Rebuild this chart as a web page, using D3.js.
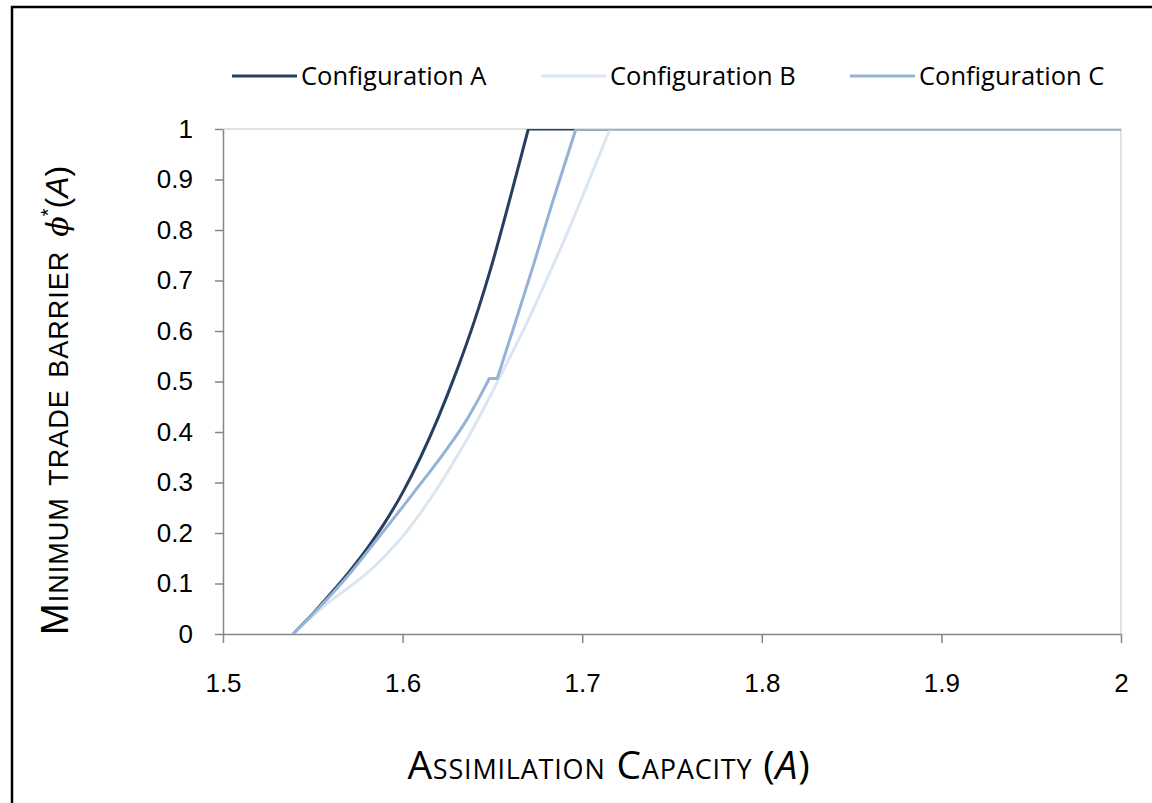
<!DOCTYPE html>
<html>
<head>
<meta charset="utf-8">
<script src="https://cdn.jsdelivr.net/npm/d3@7"></script>
<style>
  body { margin: 0; background: #fff; }
  svg { display: block; }
</style>
</head>
<body>
<div id="chart"></div>
<script>
// series (assimilation capacity A, minimum trade barrier)
const seriesNames = ["Configuration A", "Configuration B", "Configuration C"];
const seriesColors = ["#243f60", "#dce6f2", "#95b3d7"];

const capA = [1.539, 1.550, 1.560, 1.570, 1.580, 1.590, 1.600, 1.610, 1.620, 1.630, 1.640, 1.650, 1.660, 1.670, 2.0];
const phiA = [0, 0.040, 0.080, 0.122, 0.168, 0.220, 0.280, 0.350, 0.430, 0.520, 0.620, 0.735, 0.865, 1.0, 1.0];

const capB = [1.539, 1.550, 1.560, 1.570, 1.580, 1.590, 1.600, 1.610, 1.620, 1.630, 1.640, 1.650, 1.660, 1.670, 1.680, 1.690, 1.700, 1.7155, 2.0];
const phiB = [0, 0.036, 0.066, 0.092, 0.120, 0.154, 0.193, 0.240, 0.292, 0.350, 0.412, 0.480, 0.550, 0.622, 0.700, 0.780, 0.865, 1.0, 1.0];

const capC = [1.539, 1.555, 1.569, 1.587, 1.606, 1.625, 1.635, 1.643, 1.6483, 1.6527, 1.6616, 1.6728, 1.6839, 1.6965, 2.0];
const phiC = [0, 0.058, 0.113, 0.193, 0.279, 0.368, 0.420, 0.470, 0.506, 0.506, 0.604, 0.730, 0.860, 1.0, 1.0];

// indices where the curves have a sharp corner
const cornersA = [13];
const cornersB = [17];
const cornersC = [8, 9, 13];

const xTicks = [1.5, 1.6, 1.7, 1.8, 1.9, 2];
const xTickLabels = ["1.5", "1.6", "1.7", "1.8", "1.9", "2"];
const yTicks = [0, 0.1, 0.2, 0.3, 0.4, 0.5, 0.6, 0.7, 0.8, 0.9, 1];
const yTickLabels = ["0", "0.1", "0.2", "0.3", "0.4", "0.5", "0.6", "0.7", "0.8", "0.9", "1"];

const width = 1152, height = 803;
const margin = {top: 129, right: 31, bottom: 169, left: 223};

const svg = d3.select("#chart").append("svg")
  .attr("width", width)
  .attr("height", height);

svg.append("rect").attr("width", width).attr("height", height).attr("fill", "#fff");

// outer frame (only top and left show)
svg.append("path")
  .attr("d", "M12," + height + "V7H" + width)
  .attr("fill", "none")
  .attr("stroke", "#000")
  .attr("stroke-width", 2.5);

const x = d3.scaleLinear().domain([1.5, 2]).range([margin.left, width - margin.right]);
const y = d3.scaleLinear().domain([0, 1]).range([height - margin.bottom, margin.top]);

// light border top / right
svg.append("path")
  .attr("d", "M" + x(1.5) + "," + y(1) + "H" + x(2) + "V" + y(0))
  .attr("fill", "none")
  .attr("stroke", "#d9d9d9")
  .attr("stroke-width", 1.5);

const tickFont = "'Liberation Sans', Arial, sans-serif";

const yAxis = svg.append("g")
  .attr("transform", "translate(" + margin.left + ",0)")
  .call(d3.axisLeft(y).tickValues(yTicks)
    .tickFormat((d, i) => yTickLabels[i])
    .tickSize(8).tickSizeOuter(0).tickPadding(22));

const xAxis = svg.append("g")
  .attr("transform", "translate(0," + y(0) + ")")
  .call(d3.axisBottom(x).tickValues(xTicks)
    .tickFormat((d, i) => xTickLabels[i])
    .tickSize(9).tickSizeOuter(0).tickPadding(31));

[xAxis, yAxis].forEach(g => {
  g.select(".domain").attr("stroke", "#868686").attr("stroke-width", 1.5);
  g.selectAll(".tick line").attr("stroke", "#868686").attr("stroke-width", 1.5);
  g.selectAll(".tick text")
    .attr("fill", "#000")
    .style("font-family", tickFont)
    .style("font-size", "26px");
});

// lines, clipped to the plot area like the original
svg.append("clipPath").attr("id", "plot-clip")
  .append("rect")
  .attr("x", x(1.5)).attr("y", y(1))
  .attr("width", x(2) - x(1.5)).attr("height", y(0) - y(1));

const series = [
  {name: seriesNames[0], color: seriesColors[0], xs: capA, ys: phiA, corners: cornersA},
  {name: seriesNames[1], color: seriesColors[1], xs: capB, ys: phiB, corners: cornersB},
  {name: seriesNames[2], color: seriesColors[2], xs: capC, ys: phiC, corners: cornersC}
];

// smooth between corners, sharp at corners
function pathFor(s) {
  const pts = s.xs.map((v, i) => [x(v), y(s.ys[i])]);
  const cuts = [0, ...s.corners, pts.length - 1];
  let d = "";
  for (let k = 0; k < cuts.length - 1; k++) {
    const piece = pts.slice(cuts[k], cuts[k + 1] + 1);
    let seg = d3.line().curve(d3.curveMonotoneX)(piece);
    if (k > 0) seg = seg.replace(/^M[^LC]*/, "");
    d += (k > 0 ? "L" + piece[0][0] + "," + piece[0][1] : "") + seg;
  }
  return d;
}

const plot = svg.append("g").attr("clip-path", "url(#plot-clip)");
series.forEach(s => {
  plot.append("path")
    .attr("fill", "none")
    .attr("stroke", s.color)
    .attr("stroke-width", 3)
    .attr("stroke-linejoin", "round")
    .attr("d", pathFor(s));
});

// legend
const legendFont = "'Open Sans', sans-serif";
const legendX = [232, 541, 850];
const legend = svg.append("g");
series.forEach((s, i) => {
  legend.append("line")
    .attr("x1", legendX[i]).attr("x2", legendX[i] + 65)
    .attr("y1", 76).attr("y2", 76)
    .attr("stroke", s.color)
    .attr("stroke-width", 3);
  legend.append("text")
    .attr("x", legendX[i] + 69)
    .attr("y", 85)
    .style("font-family", legendFont)
    .style("font-size", "25.5px")
    .attr("fill", "#000")
    .text(s.name);
});

// x axis title
const xt = svg.append("text")
  .attr("x", (403 + 815) / 2)
  .attr("y", 779)
  .attr("text-anchor", "middle")
  .style("font-family", legendFont)
  .style("font-size", "39px")
  .style("letter-spacing", "0.8px")
  .attr("fill", "#000");
xt.append("tspan").style("font-variant", "small-caps").text("Assimilation Capacity ");
xt.append("tspan").text("(");
xt.append("tspan").style("font-style", "italic").text("A");
xt.append("tspan").text(")");

// y axis title
const yt = svg.append("text")
  .attr("transform", "translate(68,635) rotate(-90)")
  .attr("text-anchor", "start")
  .style("font-family", tickFont)
  .style("font-size", "38px")
  .attr("fill", "#000");
yt.append("tspan").style("font-variant", "small-caps").style("letter-spacing", "1px").text("Minimum trade barrier");
yt.append("tspan").attr("dx", 14).style("font-style", "italic").style("font-family", "'DejaVu Serif', serif").style("font-size", "30px").text("\u03d5");
yt.append("tspan").attr("dy", -13).style("font-size", "20px").text("*");
yt.append("tspan").attr("dy", 13).style("font-size", "32px").text("(");
yt.append("tspan").style("font-style", "italic").style("font-size", "32px").text("A");
yt.append("tspan").style("font-size", "32px").text(")");
</script>
</body>
</html>
